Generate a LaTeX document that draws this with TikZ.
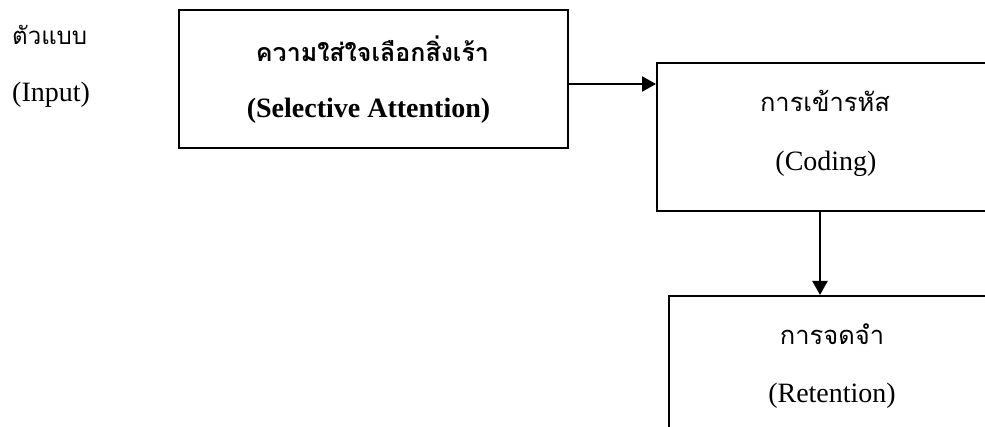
\documentclass[tikz,border=0pt]{standalone}
\usepackage{fontspec}
\setmainfont{Liberation Serif}
\newfontfamily\thai[Script=Thai]{Loma}
\usetikzlibrary{arrows.meta}
\tikzset{
  box/.style={draw, line width=1.6pt, rectangle, inner sep=0pt, anchor=north west},
  lat/.style={anchor=base, inner sep=0pt, font=\fontsize{28}{30}\selectfont},
  th/.style={anchor=base, inner sep=0pt, font=\thai\fontsize{25.5}{28}\selectfont},
  conn/.style={line width=2.2pt, -{Triangle[length=14pt,width=15pt]}}
}
\begin{document}
\begin{tikzpicture}[x=1pt,y=-1pt]
\useasboundingbox (0,0) rectangle (985,427);
\clip (0,0) rectangle (985,427);
% boxes
\node[box, minimum width=389pt, minimum height=138pt] (att) at (178,9) {};
\node[box, minimum width=338pt, minimum height=148pt] (cod) at (656,62) {};
\node[box, minimum width=328pt, minimum height=142pt] (ret) at (668,295) {};
% left labels
\node[th, anchor=base west, font=\thai\fontsize{24}{28}\selectfont] (model) at (12,45) {ตัวแบบ};
\node[lat, anchor=base west] (input) at (12,102) {(Input)};
% box texts
\node[th, font=\thai\bfseries\fontsize{25}{28}\selectfont] (attth) at (372.5,62) {ความใส่ใจเลือกสิ่งเร้า};
\node[lat, font=\bfseries\fontsize{28}{30}\selectfont] (atten) at (368.5,118) {(Selective Attention)};
\node[th] (codth) at (825,111.7) {การเข้ารหัส};
\node[lat] (coden) at (826,170.7) {(Coding)};
\node[th] (retth) at (832,345) {การจดจำ};
\node[lat] (reten) at (832,402.7) {(Retention)};
% connectors
\coordinate (a1) at (att.east |- 0,84);
\coordinate (a2) at (cod.west |- 0,84);
\draw[conn] (a1) -- (a2);
\coordinate (b1) at (820,0 |- cod.south);
\coordinate (b2) at (820,0 |- ret.north);
\draw[conn] (b1) -- (b2);
\end{tikzpicture}
\end{document}
